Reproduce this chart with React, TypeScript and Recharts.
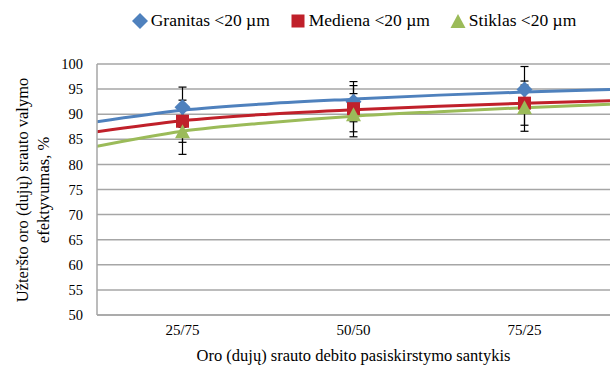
import { ComposedChart, Line, Scatter, ErrorBar, XAxis, YAxis, CartesianGrid, Label } from 'recharts';

// categories on the x axis (placed at 1, 2, 3)
const categories = ['25/75', '50/50', '75/25'];
const positions = [1, 2, 3];

// measured points and their error bars
const granitas = [91.4, 92.5, 94.9];
const granitasErr = [4.0, 4.0, 4.6];
const mediena = [88.6, 91.1, 92.2];
const medienaErr = [4.2, 4.6, 4.4];
const stiklas = [86.4, 89.8, 91.2];
const stiklasErr = [4.4, 4.3, 4.6];

// trend lines
const trendX = [0.5, 1, 1.5, 2, 2.5, 3, 3.5];
const granitasTrend = [88.5, 90.8, 92.1, 93.0, 93.8, 94.4, 94.9];
const medienaTrend = [86.5, 88.7, 90.0, 90.9, 91.6, 92.2, 92.7];
const stiklasTrend = [83.6, 86.6, 88.3, 89.6, 90.5, 91.3, 92.0];

const yTicks = [50, 55, 60, 65, 70, 75, 80, 85, 90, 95, 100];

const BLUE = '#4F81BD';
const RED = '#C0202A';
const GREEN = '#9BBB59';
const FONT = 'Liberation Serif, Times New Roman, serif';

const points = (vals: number[], errs: number[]) =>
  positions.map((x, i) => ({ x, y: vals[i], err: errs[i] }));
const trend = (vals: number[]) => trendX.map((x, i) => ({ x, y: vals[i] }));

const Diamond = (p: any) => (
  <polygon
    points={`${p.cx},${p.cy - 8} ${p.cx + 8},${p.cy} ${p.cx},${p.cy + 8} ${p.cx - 8},${p.cy}`}
    fill={BLUE}
  />
);
const Square = (p: any) => <rect x={p.cx - 6.5} y={p.cy - 6.5} width={13} height={13} fill={RED} />;
const Triangle = (p: any) => (
  <polygon
    points={`${p.cx},${p.cy - 8} ${p.cx + 7.5},${p.cy + 6} ${p.cx - 7.5},${p.cy + 6}`}
    fill={GREEN}
  />
);

const YTitle = () => (
  <g fontFamily={FONT} fontSize={16.5} fill="#000">
    <text transform="translate(28,190) rotate(-90)" textAnchor="middle">
      Užteršto oro (dujų) srauto valymo
    </text>
    <text transform="translate(49,190) rotate(-90)" textAnchor="middle">
      efektyvumas, %
    </text>
  </g>
);

const legendItems = [
  { name: 'Granitas <20 µm', shape: 'diamond', color: BLUE },
  { name: 'Mediena <20 µm', shape: 'square', color: RED },
  { name: 'Stiklas <20 µm', shape: 'triangle', color: GREEN },
];

function LegendIcon({ shape, color }: { shape: string; color: string }) {
  return (
    <svg width={16} height={16} style={{ marginRight: 3 }}>
      {shape === 'diamond' && <polygon points="8,0 16,8 8,16 0,8" fill={color} />}
      {shape === 'square' && <rect x={1.5} y={1.5} width={13} height={13} fill={color} />}
      {shape === 'triangle' && <polygon points="8,1 15.5,15 0.5,15" fill={color} />}
    </svg>
  );
}

export default function App() {
  return (
    <div style={{ position: 'absolute', left: 0, top: 0, width: 611, height: 366, background: '#fff' }}>
      <div
        style={{
          position: 'absolute', top: 10, left: 97, width: 514, display: 'flex',
          justifyContent: 'center', alignItems: 'center', gap: 20,
          fontFamily: FONT, fontSize: 17.5, color: '#000',
        }}
      >
        {legendItems.map((it) => (
          <div key={it.name} style={{ display: 'flex', alignItems: 'center' }}>
            <LegendIcon shape={it.shape} color={it.color} />
            <span>{it.name}</span>
          </div>
        ))}
      </div>
      <ComposedChart width={611} height={366} margin={{ top: 64, right: 1, bottom: 0, left: 0 }}>
        <CartesianGrid horizontal vertical={false} stroke="#A6A6A6" strokeWidth={1.5} />
        <XAxis
          type="number"
          dataKey="x"
          domain={[0.5, 3.5]}
          ticks={positions}
          tickFormatter={(v: number) => categories[v - 1]}
          allowDataOverflow
          height={51}
          tickLine={false}
          axisLine={{ stroke: '#A6A6A6', strokeWidth: 1.5 }}
          tick={{ fill: '#000', fontSize: 15, fontFamily: FONT }}
          tickMargin={3}
        >
          <Label
            value="Oro (dujų) srauto debito pasiskirstymo santykis"
            position="insideBottom"
            offset={5}
            style={{ fill: '#000', fontSize: 16.5, fontFamily: FONT }}
          />
        </XAxis>
        <YAxis
          type="number"
          domain={[50, 100]}
          ticks={yTicks}
          interval={0}
          width={97}
          tickLine={false}
          axisLine={{ stroke: '#A6A6A6', strokeWidth: 1.5 }}
          tick={{ fill: '#000', fontSize: 14.5, fontFamily: FONT }}
          tickMargin={8}
        >
          <Label content={<YTitle />} />
        </YAxis>
        <Line data={trend(granitasTrend)} dataKey="y" type="monotone" stroke={BLUE} strokeWidth={3} dot={false} isAnimationActive={false} />
        <Line data={trend(medienaTrend)} dataKey="y" type="monotone" stroke={RED} strokeWidth={3} dot={false} isAnimationActive={false} />
        <Line data={trend(stiklasTrend)} dataKey="y" type="monotone" stroke={GREEN} strokeWidth={3} dot={false} isAnimationActive={false} />
        <Scatter data={points(granitas, granitasErr)} dataKey="y" shape={<Diamond />} isAnimationActive={false}>
          <ErrorBar dataKey="err" direction="y" width={4} stroke="#000" strokeWidth={1.2} />
        </Scatter>
        <Scatter data={points(mediena, medienaErr)} dataKey="y" shape={<Square />} isAnimationActive={false}>
          <ErrorBar dataKey="err" direction="y" width={4} stroke="#000" strokeWidth={1.2} />
        </Scatter>
        <Scatter data={points(stiklas, stiklasErr)} dataKey="y" shape={<Triangle />} isAnimationActive={false}>
          <ErrorBar dataKey="err" direction="y" width={4} stroke="#000" strokeWidth={1.2} />
        </Scatter>
      </ComposedChart>
    </div>
  );
}
